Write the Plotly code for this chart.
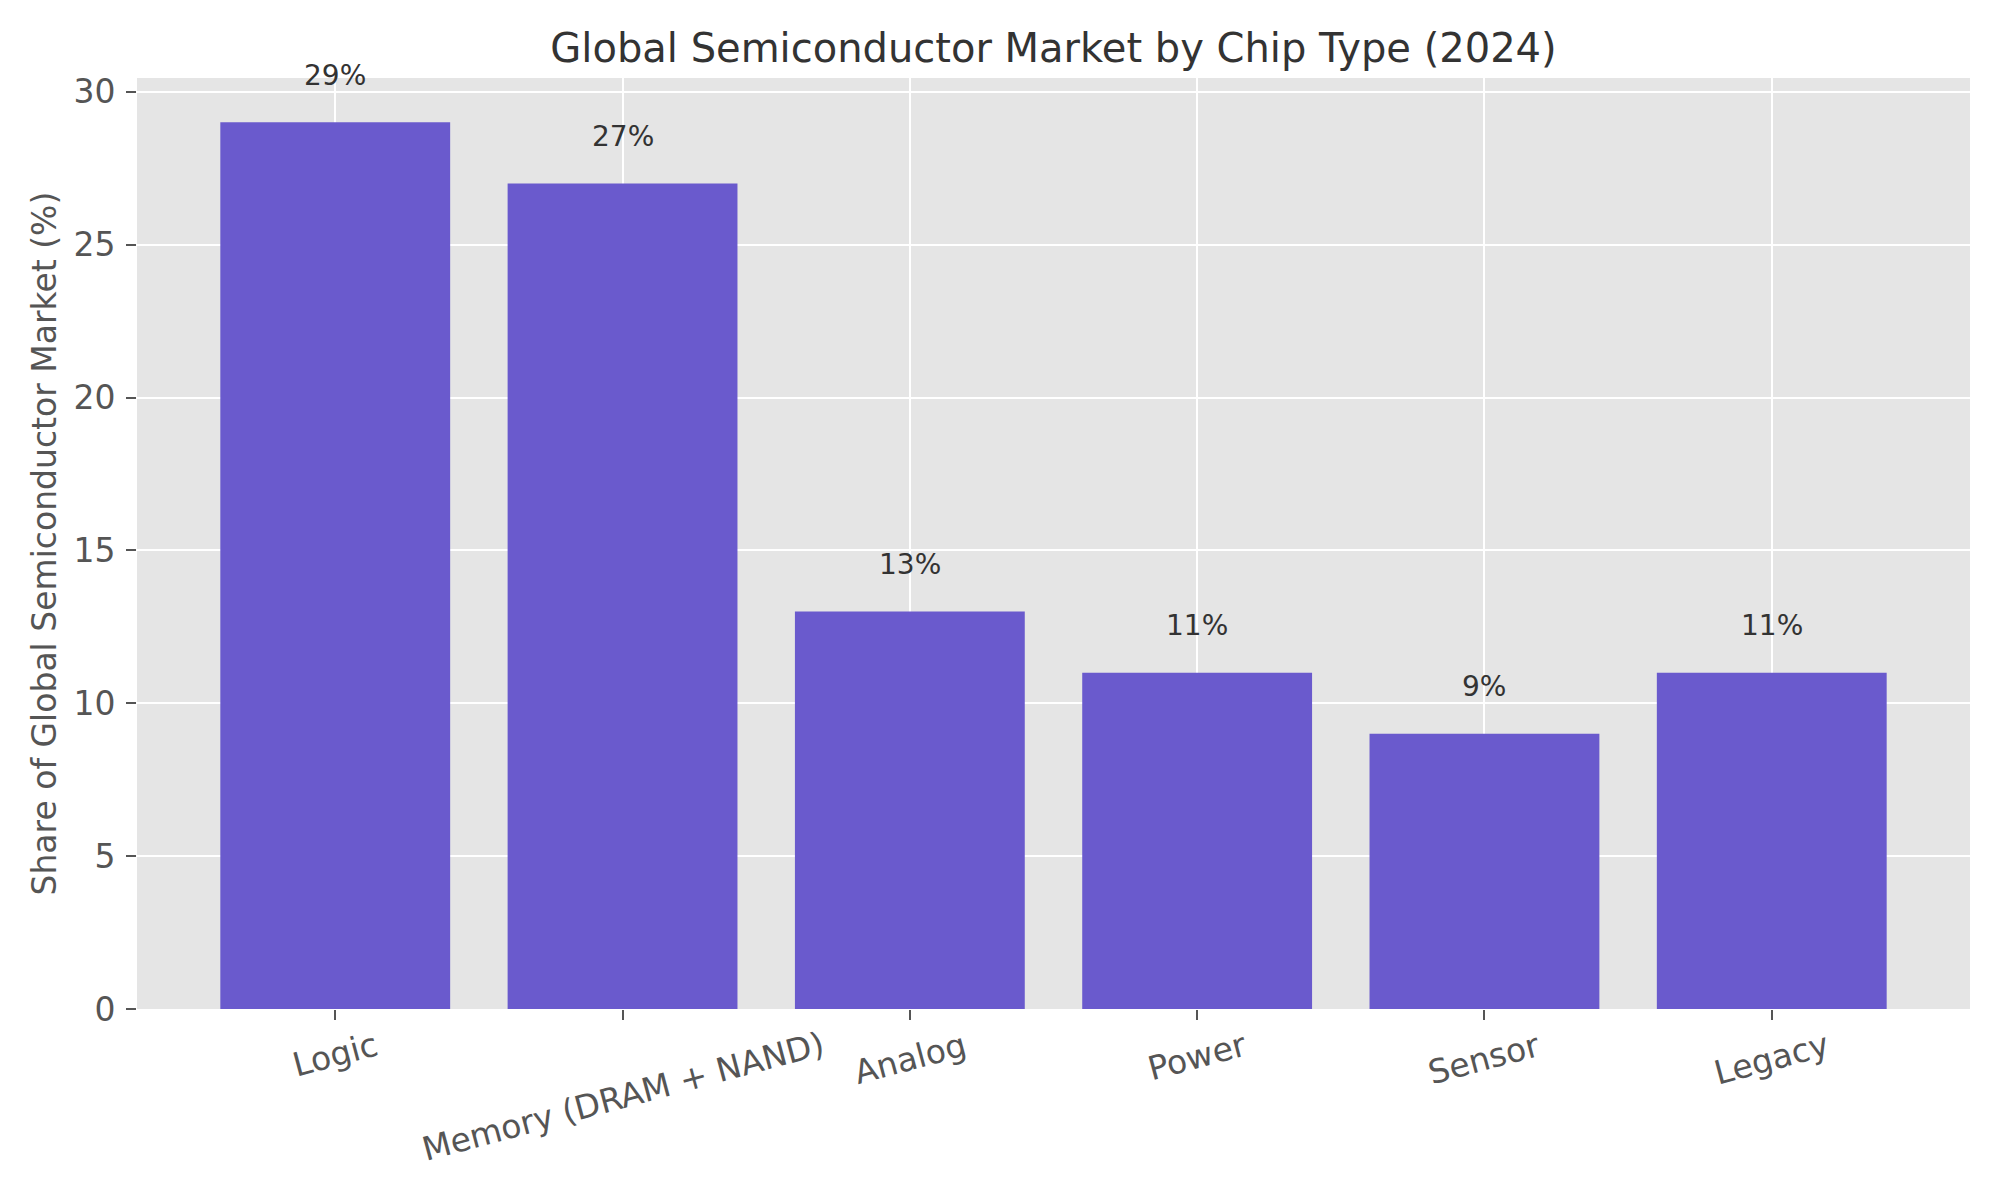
import plotly.graph_objects as go

categories = ["Logic", "Memory (DRAM + NAND)", "Analog", "Power", "Sensor", "Legacy"]
shares = [29, 27, 13, 11, 9, 11]
y_ticks = [0, 5, 10, 15, 20, 25, 30]

W, H = 2000, 1200
OFF = 8  # page body margin offset
L, R, T, B = 137 - OFF, 30 + OFF, 78 - OFF, 191 + OFF
FONT = "DejaVu Sans"

fig = go.Figure()
fig.add_trace(go.Bar(
    x=categories, y=shares, width=0.8,
    marker=dict(color="#6A5ACD", line=dict(width=0)),
    hoverinfo="skip",
))

annotations = []
for c, v in zip(categories, shares):
    annotations.append(dict(
        x=c, y=v + 1, xref="x", yref="y", text=f"{v}%", showarrow=False,
        xanchor="center", yanchor="bottom", yshift=-2,
        font=dict(family=FONT, size=28, color="#333333"),
    ))
    annotations.append(dict(
        x=c, y=0, xref="x", yref="paper", text=c, showarrow=False,
        xanchor="center", yanchor="top", textangle=-15, yshift=-13,
        font=dict(family=FONT, size=33, color="#555555"),
    ))

plot_w = W - L - R
annotations.append(dict(
    x=(44 - OFF - L) / plot_w, y=0.5, xref="paper", yref="paper",
    text="Share of Global Semiconductor Market (%)", showarrow=False,
    textangle=-90, xanchor="center", yanchor="middle",
    font=dict(family=FONT, size=33, color="#555555"),
))

fig.update_layout(
    width=W, height=H,
    margin=dict(l=L, r=R, t=T, b=B),
    paper_bgcolor="white", plot_bgcolor="#E5E5E5",
    showlegend=False,
    title=dict(
        text="Global Semiconductor Market by Chip Type (2024)",
        x=(L + plot_w / 2) / W, xanchor="center",
        y=1 - 40 / H, yanchor="middle", yref="container",
        font=dict(family=FONT, size=40, color="#333333"),
    ),
    annotations=annotations,
    bargap=0.2,
)
fig.update_xaxes(
    range=[-0.69, 5.69], showticklabels=False,
    ticks="outside", ticklen=10, tickwidth=2, tickcolor="#555555",
    showgrid=True, gridcolor="white", gridwidth=2,
    showline=False, zeroline=False,
)
fig.update_yaxes(
    range=[0, 30.45], tickvals=y_ticks,
    ticks="outside", ticklen=10, tickwidth=2, tickcolor="#555555",
    ticklabelstandoff=4,
    tickfont=dict(family=FONT, size=33, color="#555555"),
    showgrid=True, gridcolor="white", gridwidth=2,
    showline=False, zeroline=False,
)

fig.write_html("out.html")
